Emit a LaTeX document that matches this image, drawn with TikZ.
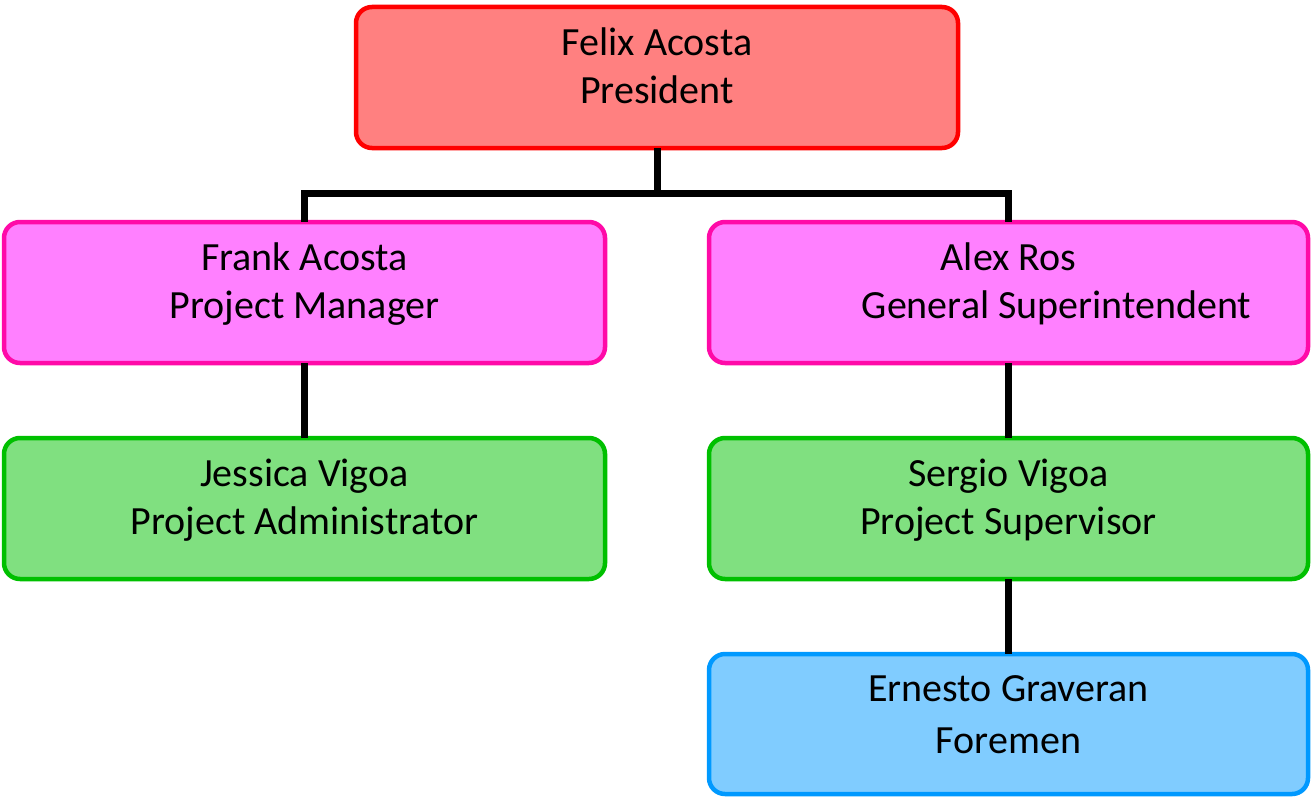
\documentclass[tikz,border=0pt]{standalone}
\usepackage{fontspec}
\setmainfont{Carlito}
\definecolor{redB}{HTML}{FF0000}
\definecolor{redF}{HTML}{FF8080}
\definecolor{pinkB}{HTML}{FF0AA8}
\definecolor{pinkF}{HTML}{FF80FF}
\definecolor{greenB}{HTML}{00C000}
\definecolor{greenF}{HTML}{80E080}
\definecolor{blueB}{HTML}{0099FF}
\definecolor{blueF}{HTML}{80CCFF}
\begin{document}
\begin{tikzpicture}[x=1bp,y=-1bp,
  box/.style={rounded corners=16bp, line width=4.5bp, minimum width=601bp, minimum height=141bp, inner sep=0pt, outer sep=0pt, anchor=north west},
  lbl/.style={align=center, anchor=north, inner sep=0pt, font=\fontsize{40bp}{48bp}\selectfont},
  conn/.style={line width=7bp, draw=black, line join=miter}]
\useasboundingbox (0,0) rectangle (1312,798);
\node[box, draw=redB, fill=redF, minimum width=602bp] (pres) at (356,7) {};
\node[box, draw=pinkB, fill=pinkF] (frank) at (4,222) {};
\node[box, draw=pinkB, fill=pinkF, minimum width=599bp] (alex) at (709,222) {};
\node[box, draw=greenB, fill=greenF] (jess) at (4,438) {};
\node[box, draw=greenB, fill=greenF, minimum width=599bp] (serg) at (709,438) {};
\node[box, draw=blueB, fill=blueF, minimum width=599bp, minimum height=140bp] (ern) at (709,654) {};
\coordinate (busM) at ([yshift=-45bp]pres.south);
\coordinate (busL) at (frank.north |- busM);
\coordinate (busR) at (alex.north |- busM);
\draw[conn] (pres.south) -- (busM);
\draw[conn] (frank.north) -- (busL) -- (busR) -- (alex.north);
\draw[conn] (frank.south) -- (jess.north);
\draw[conn] (alex.south) -- (serg.north);
\draw[conn] (serg.south) -- (ern.north);
\node[lbl] (presT) at ([yshift=-21bp]pres.north) {Felix Acosta\\President};
\node[lbl] (frankT) at ([yshift=-21bp]frank.north) {Frank Acosta\\Project Manager};
\node[lbl] (alexT) at ([yshift=-21bp]alex.north) {Alex Ros\\\hspace*{96bp}General Superintendent};
\node[lbl] (jessT) at ([yshift=-21bp]jess.north) {Jessica Vigoa\\Project Administrator};
\node[lbl] (sergT) at ([yshift=-21bp]serg.north) {Sergio Vigoa\\Project Supervisor};
\node[lbl, font=\fontsize{40bp}{52bp}\selectfont] (ernT) at ([yshift=-21bp]ern.north) {Ernesto Graveran\\Foremen};
\end{tikzpicture}
\end{document}
